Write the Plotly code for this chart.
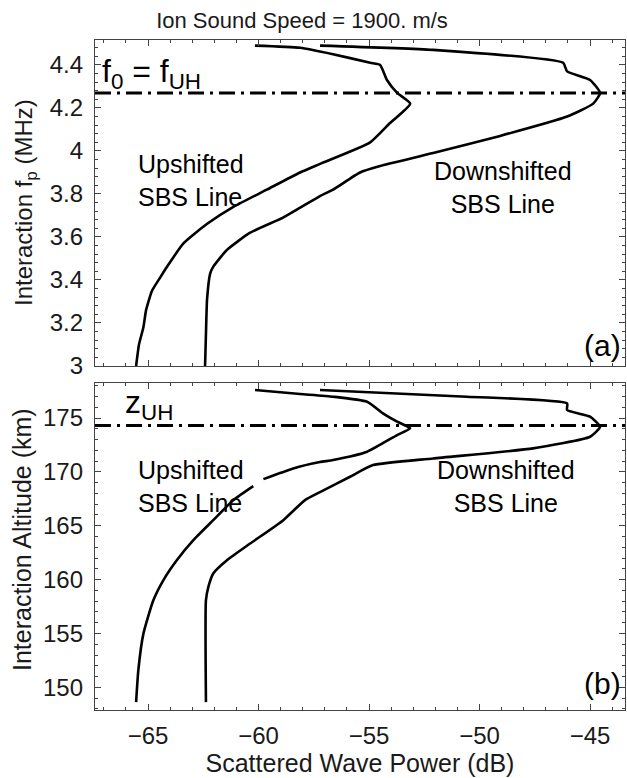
import plotly.graph_objects as go
from plotly.subplots import make_subplots

# ---------------- data ----------------
# Panel (a): interaction plasma frequency (MHz) vs scattered power (dB)
up_a_power = [-65.54, -65.41, -65.21, -65.09, -64.82, -64.46, -64.15, -63.40, -62.34, -61.14,
              -59.63, -58.12, -57.22, -54.95, -54.05, -53.14, -53.73, -54.19, -54.50, -54.95,
              -56.63, -58.12, -60.16]
up_a_fp = [3.00, 3.10, 3.18, 3.26, 3.35, 3.41, 3.46, 3.57, 3.66, 3.74,
           3.82, 3.90, 3.94, 4.04, 4.13, 4.22, 4.27, 4.33, 4.40, 4.41,
           4.45, 4.48, 4.49]

down_a_power = [-62.42, -62.38, -62.33, -62.19, -62.06, -61.43, -60.38, -58.89, -57.22, -56.63,
                -55.41, -54.50, -52.10, -49.07, -46.04, -44.86, -44.55, -45.00, -46.04, -46.22,
                -52.10, -57.22]
down_a_fp = [3.00, 3.15, 3.31, 3.43, 3.46, 3.54, 3.62, 3.69, 3.79, 3.82,
             3.90, 3.93, 3.99, 4.07, 4.16, 4.22, 4.27, 4.33, 4.37, 4.41,
             4.47, 4.49]

# Panel (b): interaction altitude (km) vs scattered power (dB)
up_b_power = [-65.54, -65.44, -65.21, -64.76, -64.31, -63.70, -62.95, -62.05, -61.14, -60.24, None,
              -59.78, -58.43, -57.22, -56.63, -55.09, -53.73, -53.14, -53.73, -54.37, -55.09,
              -56.63, -58.12, -60.16]
up_b_alt = [148.63, 151.58, 154.99, 158.09, 159.94, 161.80, 163.66, 165.52, 167.38, 168.68, None,
            169.33, 170.32, 170.91, 171.10, 171.87, 173.42, 174.04, 174.66, 175.43, 176.51,
            176.98, 177.23, 177.60]

down_b_power = [-62.38, -62.38, -62.27, -62.05, -61.43, -60.38, -58.88, -57.90, -57.22, -55.86,
                -54.82, -52.10, -47.58, -45.00, -44.55, -45.00, -46.04, -46.04, -50.57, -57.22]
down_b_alt = [148.63, 158.09, 159.32, 160.57, 161.80, 163.35, 165.52, 167.38, 168.12, 169.55,
              170.63, 171.25, 172.18, 173.26, 174.19, 175.12, 175.74, 176.36, 176.98, 177.60]

f0_equals_fuh = 4.27     # MHz
z_uh = 174.3             # km

x_range = [-67.4, -43.42]
fp_range = [3.0, 4.516]
alt_range = [147.9, 178.25]
x_ticks = [-65, -60, -55, -50, -45]
x_labels = ["\u221265", "\u221260", "\u221255", "\u221250", "\u221245"]
fp_ticks = [3, 3.2, 3.4, 3.6, 3.8, 4, 4.2, 4.4]
fp_labels = ["3", "3.2", "3.4", "3.6", "3.8", "4", "4.2", "4.4"]
alt_ticks = [150, 155, 160, 165, 170, 175]

# ---------------- figure ----------------
W, H = 627, 778
ML, MR, MT, MB = 95, 2, 40, 68
PW, PH = W - ML - MR, H - MT - MB

def px2x(px):
    return (px - ML) / PW

def py2y(py):
    return (H - MB - py) / PH

FONT = "Liberation Sans, Arial, Helvetica, sans-serif"
TXT = "#1a1a1a"

fig = make_subplots(rows=2, cols=1, shared_xaxes=False, vertical_spacing=0.0)

line_style = dict(color="black", width=2.6, shape="spline", smoothing=0.5)
fig.add_trace(go.Scatter(x=up_a_power, y=up_a_fp, mode="lines", line=line_style,
                         showlegend=False), row=1, col=1)
fig.add_trace(go.Scatter(x=down_a_power, y=down_a_fp, mode="lines", line=line_style,
                         showlegend=False), row=1, col=1)
fig.add_trace(go.Scatter(x=up_b_power, y=up_b_alt, mode="lines", line=line_style,
                         connectgaps=False, showlegend=False), row=2, col=1)
fig.add_trace(go.Scatter(x=down_b_power, y=down_b_alt, mode="lines", line=line_style,
                         showlegend=False), row=2, col=1)

dashdot = dict(color="black", width=3, dash="16px,6px,3px,6px")
fig.add_hline(y=f0_equals_fuh, line=dashdot, row=1, col=1)
fig.add_hline(y=z_uh, line=dashdot, row=2, col=1)

axis_common = dict(
    showgrid=False, zeroline=False, showline=True, linecolor="#444", linewidth=1.4,
    mirror="ticks", ticks="inside", ticklen=6, tickwidth=1.2, tickcolor="#444",
    tickfont=dict(family=FONT, size=24, color=TXT),
)

top_dom = [py2y(366), 1.0]
bot_dom = [0.0, py2y(383)]

fig.update_xaxes(**axis_common, range=x_range, tickvals=x_ticks, ticktext=x_labels,
                 minor=dict(dtick=1, ticks="inside", ticklen=3, tickcolor="#444"))
fig.update_xaxes(showticklabels=False, row=1, col=1)
fig.update_xaxes(ticklabelstandoff=4, row=2, col=1,
                 title=dict(text="Scattered Wave Power (dB)", standoff=6,
                            font=dict(family=FONT, size=25, color=TXT)))

fig.update_yaxes(**axis_common, row=1, col=1, range=fp_range, tickvals=fp_ticks,
                 ticktext=fp_labels, domain=top_dom, ticklabelstandoff=6,
                 minor=dict(dtick=0.04, tick0=3, ticks="inside", ticklen=3, tickcolor="#444"))
fig.update_yaxes(**axis_common, row=2, col=1, range=alt_range, tickvals=alt_ticks,
                 domain=bot_dom, ticklabelstandoff=6,
                 minor=dict(dtick=1, tick0=150, ticks="inside", ticklen=3, tickcolor="#444"))

annotations = [
    dict(text="Interaction f<sub>p</sub> (MHz)", x=px2x(25), y=py2y(203), textangle=-90,
         font=dict(family=FONT, size=24, color=TXT)),
    dict(text="Interaction Altitude (km)", x=px2x(22), y=py2y(540), textangle=-90,
         font=dict(family=FONT, size=25, color=TXT)),
    dict(text="f<sub>0</sub> = f<sub>UH</sub>", x=px2x(100), y=py2y(73), xanchor="left",
         font=dict(family=FONT, size=32, color="black")),
    dict(text="z<sub>UH</sub>", x=px2x(123), y=py2y(404), xanchor="left",
         font=dict(family=FONT, size=32, color="black")),
    dict(text="Upshifted<br>SBS Line", x=px2x(136), y=py2y(180), xanchor="left", align="left",
         font=dict(family=FONT, size=25, color="black")),
    dict(text="Downshifted<br>SBS Line", x=px2x(503), y=py2y(188), align="center",
         font=dict(family=FONT, size=25, color="black")),
    dict(text="Upshifted<br>SBS Line", x=px2x(136), y=py2y(487), xanchor="left", align="left",
         font=dict(family=FONT, size=25, color="black")),
    dict(text="Downshifted<br>SBS Line", x=px2x(506), y=py2y(486), align="center",
         font=dict(family=FONT, size=25, color="black")),
    dict(text="(a)", x=px2x(623), y=py2y(345), xanchor="right",
         font=dict(family=FONT, size=30, color="black")),
    dict(text="(b)", x=px2x(623), y=py2y(683), xanchor="right",
         font=dict(family=FONT, size=30, color="black")),
]
for a in annotations:
    a.update(xref="paper", yref="paper", showarrow=False)
    a.setdefault("xanchor", "center")
    a.setdefault("yanchor", "middle")

fig.update_layout(
    width=W, height=H,
    margin=dict(l=ML, r=MR, t=MT, b=MB),
    paper_bgcolor="white", plot_bgcolor="white",
    title=dict(text="Ion Sound Speed = 1900. m/s", x=302 / W, xref="container", xanchor="center",
               y=1 - 20 / H, yref="container", yanchor="middle",
               font=dict(family=FONT, size=22, color=TXT)),
    annotations=annotations,
    showlegend=False,
)

fig.write_html(
    "out.html",
    config={"displayModeBar": False},
    post_script="document.body.style.margin='0';document.body.style.overflow='hidden';"
                "document.documentElement.style.overflow='hidden';",
)
